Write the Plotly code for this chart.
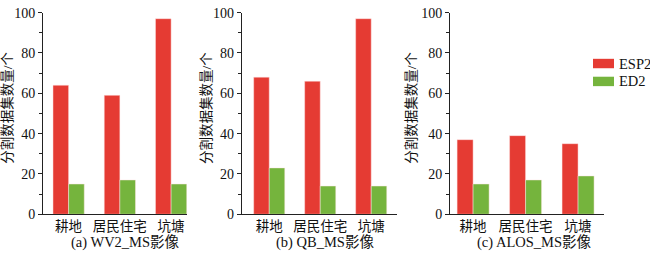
import plotly.graph_objects as go

categories = ["耕地", "居民住宅", "坑塘"]
series_names = ["ESP2", "ED2"]
panel_titles = ["(a) WV2_MS影像", "(b) QB_MS影像", "(c) ALOS_MS影像"]
y_title = "分割数据集数量/个"

wv2_esp2 = [64, 59, 97]
wv2_ed2 = [15, 17, 15]
qb_esp2 = [68, 66, 97]
qb_ed2 = [23, 14, 14]
alos_esp2 = [37, 39, 35]
alos_ed2 = [15, 17, 19]

panels = [(wv2_esp2, wv2_ed2), (qb_esp2, qb_ed2), (alos_esp2, alos_ed2)]
colors = ["#E53B33", "#75B43D"]

W, H = 650, 259
FONT = "Liberation Serif, Times New Roman, Noto Sans CJK SC"

# pixel layout for each panel: (x0, x1) of axis, x-range
px_domains = [(43, 187), (241.7, 396.7), (450, 604.3)]
x_ranges = [[-0.5, 2.31], [-0.54, 2.5], [-0.44, 2.5]]
ytop, ybot = 6, 220
ydom = [(H - ybot) / H, (H - ytop) / H]

fig = go.Figure()
layout = {}
for i, (esp, ed) in enumerate(panels):
    xa = "x" if i == 0 else f"x{i+1}"
    ya = "y" if i == 0 else f"y{i+1}"
    for vals, name, col in zip((esp, ed), series_names, colors):
        fig.add_trace(go.Bar(
            x=categories, y=vals, name=name, xaxis=xa, yaxis=ya,
            marker=dict(color=col, line=dict(color="rgba(255,230,230,0.8)", width=0.6)),
            showlegend=False,
        ))
    x0, x1 = px_domains[i]
    kx = "xaxis" if i == 0 else f"xaxis{i+1}"
    ky = "yaxis" if i == 0 else f"yaxis{i+1}"
    layout[kx] = dict(
        domain=[x0 / W, x1 / W], range=x_ranges[i], anchor=ya,
        showline=True, linecolor="#222", linewidth=1, ticks="",
        showgrid=False, zeroline=False, fixedrange=True,
        tickfont=dict(family=FONT, size=13.5, color="#111"),
        type="category",
    )
    layout[ky] = dict(
        domain=ydom, range=[0, 100], anchor=xa,
        showline=True, linecolor="#222", linewidth=1,
        ticks="outside", ticklen=4, tickwidth=1, tickcolor="#222",
        dtick=20, tick0=0, ticklabeloverflow="allow",
        minor=dict(ticks="outside", ticklen=3, tickwidth=1, tickcolor="#222", dtick=10, showgrid=False),
        showgrid=False, zeroline=False, fixedrange=True,
        tickfont=dict(family=FONT, size=14, color="#111"),
    )

annotations = []
title_x = [125, 324.7, 533.7]
ytitle_x = [7.5, 206.7, 411.5]
for i in range(3):
    annotations.append(dict(
        text=panel_titles[i], x=title_x[i] / W, y=(H - 250) / H, xref="paper", yref="paper",
        xanchor="center", yanchor="middle", showarrow=False,
        font=dict(family=FONT, size=14.5, color="#111"),
    ))
    annotations.append(dict(
        text=y_title, x=ytitle_x[i] / W, y=(H - 107.5) / H, xref="paper", yref="paper",
        xanchor="center", yanchor="middle", showarrow=False, textangle=-90,
        font=dict(family=FONT, size=13.5, color="#111"),
    ))

# legend drawn manually
shapes = []
leg_rows = [60, 79]
for name, col, yc in zip(series_names, colors, leg_rows):
    shapes.append(dict(
        type="rect", xref="paper", yref="paper",
        x0=593 / W, x1=614 / W, y0=(H - yc - 5) / H, y1=(H - yc + 5) / H,
        fillcolor=col, line=dict(width=0),
    ))
    annotations.append(dict(
        text=name, x=617 / W, y=(H - yc) / H, xref="paper", yref="paper",
        xanchor="left", yanchor="middle", showarrow=False,
        font=dict(family=FONT, size=14.5, color="#111"),
    ))

fig.update_layout(
    width=W, height=H,
    margin=dict(l=0, r=0, t=0, b=0),
    paper_bgcolor="white", plot_bgcolor="white",
    barmode="group", bargap=0.39, bargroupgap=0,
    annotations=annotations, shapes=shapes,
    **layout,
)

fig.write_html("out.html", config={"displayModeBar": False})
